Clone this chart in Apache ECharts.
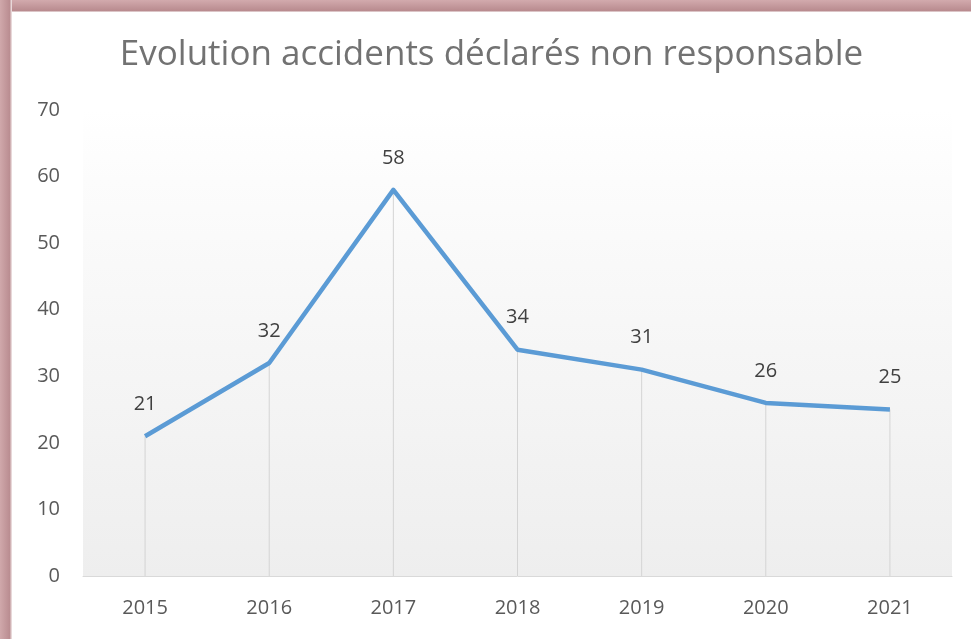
<!DOCTYPE html>
<html><head><meta charset="utf-8">
<script src="https://cdn.jsdelivr.net/npm/echarts@6/dist/echarts.min.js"></script>
<style>
html,body{margin:0;padding:0;width:971px;height:639px;overflow:hidden;background:#fff;}
#frame{position:absolute;left:0;top:0;width:971px;height:639px;background:linear-gradient(180deg,#d2aaad 0px,#b88a8e 11px,#fff 12px);}
#frameL{position:absolute;left:0;top:0;width:12px;height:639px;background:linear-gradient(90deg,#d0a8ab 0px,#b98c90 10px,#e8d8d9 11px);}
#chart{position:absolute;left:12px;top:12px;width:959px;height:627px;background:#fff;}
</style></head>
<body>
<div id="frame"></div><div id="frameL"></div>
<div id="chart"></div>
<script>
const categories = ['2015','2016','2017','2018','2019','2020','2021'];
const accidents = [21, 32, 58, 34, 31, 26, 25];
const chart = echarts.init(document.getElementById('chart'));
chart.setOption({
  animation: false,
  title: {
    text: 'Evolution accidents déclarés non responsable',
    left: 'center', top: 21,
    textStyle: {fontFamily: 'Open Sans', fontWeight: 'normal', fontSize: 35, color: '#727272'}
  },
  grid: {
    left: 71, right: 19, top: 98, bottom: 63, show: true, borderWidth: 0,
    backgroundColor: {type: 'linear', x: 0, y: 0, x2: 0, y2: 1, colorStops: [
      {offset: 0, color: '#ffffff'}, {offset: 0.15, color: '#fcfcfc'}, {offset: 1, color: '#eeeeee'}]}
  },
  xAxis: {
    type: 'category', data: categories, boundaryGap: true,
    axisLine: {lineStyle: {color: '#d9d9d9', width: 1}},
    axisTick: {show: false},
    axisLabel: {fontFamily: 'Open Sans', fontSize: 20, color: '#595959', margin: 22}
  },
  yAxis: {
    type: 'value', min: 0, max: 70, interval: 10,
    axisLine: {show: false}, axisTick: {show: false}, splitLine: {show: false},
    axisLabel: {fontFamily: 'Open Sans', fontSize: 20, color: '#595959', margin: 23}
  },
  series: [
    {
      type: 'bar', data: accidents, barWidth: 1, silent: true,
      itemStyle: {color: '#d4d4d4'}, z: 1,
      label: {show: true, position: 'top', distance: 22,
        fontFamily: 'Open Sans', fontSize: 20, color: '#404040'}
    },
    {
      type: 'line', data: accidents, symbol: 'none', z: 3,
      lineStyle: {color: '#5b9bd5', width: 4.5, join: 'round'}
    }
  ]
});
</script>
</body></html>
